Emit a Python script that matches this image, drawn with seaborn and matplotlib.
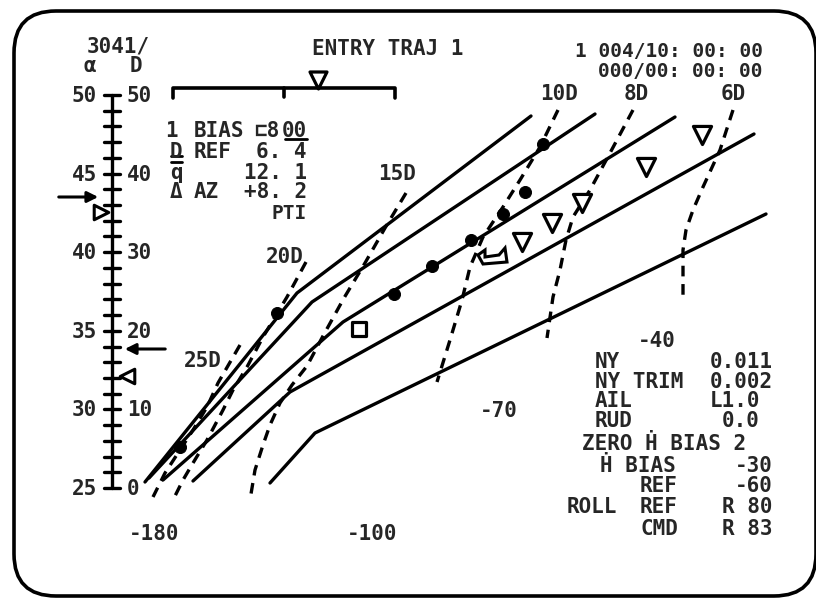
import numpy as np
import pandas as pd
import matplotlib
matplotlib.use("Agg")
import matplotlib.pyplot as plt
import seaborn as sns
from matplotlib.patches import FancyBboxPatch

# ------------------------------------------------------------
# ENTRY TRAJ 1 display, redrawn in screen units (px, y down)
# ------------------------------------------------------------

sns.set_theme(style="white")
plt.rcParams["font.family"] = ["DejaVu Sans Mono", "DejaVu Sans"]
plt.rcParams["font.weight"] = "bold"

# -- drag profile lines (solid) --
prof1_x = [145, 297, 531]
prof1_y = [482, 293, 116]
prof2_x = [149, 312, 595]
prof2_y = [478, 302, 114]
prof3_x = [163, 343, 675]
prof3_y = [480, 322, 117]
prof4_x = [193, 290, 754]
prof4_y = [481, 392, 134]
prof5_x = [270, 315, 766]
prof5_y = [483, 433, 214]

# -- constant drag lines (dashed) --
d25_x = [240, 218, 207, 193, 180, 165, 153]
d25_y = [345, 383, 407, 430, 450, 473, 497]
d20_x = [306, 287, 263, 247, 233, 223, 207, 193, 183, 173]
d20_y = [262, 297, 337, 367, 390, 410, 440, 463, 480, 500]
d15_x = [406, 385, 365, 344, 323, 307, 292, 280, 270, 263, 255, 250]
d15_y = [193, 228, 263, 298, 336, 366, 385, 403, 425, 445, 470, 500]
d10_x = [558, 540, 520, 503, 483, 470, 462, 450, 437]
d10_y = [110, 147, 180, 207, 237, 267, 300, 340, 382]
d8_x = [633, 610, 590, 573, 566, 560, 553, 547]
d8_y = [110, 153, 190, 217, 240, 270, 297, 338]
d6_x = [733, 720, 703, 693, 686, 683, 683]
d6_y = [110, 150, 187, 210, 230, 250, 297]

# -- history dots, predictor triangles, guidance box --
dot_x = [180, 277, 394, 432, 471, 503, 525, 543]
dot_y = [447, 313, 294, 266, 240, 214, 192, 144]
tri_x = [522, 552, 582, 646, 702]
tri_y = [242, 223, 203, 167, 135]
box_x = [359]
box_y = [329]
bug_x = [478, 485, 485, 499, 505, 507, 483, 478]
bug_y = [255, 250, 257, 255, 248, 262, 264, 255]

# -- alpha / D scale --
alpha_left = ["50", "45", "40", "35", "30", "25"]
drag_right = ["50", "40", "30", "20", "10", "0"]
alpha_major = [50, 45, 40, 35, 30, 25]

# -- text blocks --
info_labels = ["BIAS", "REF", "", "AZ"]
info_values = ["00", "6. 4", "12. 1", "+8. 2", "PTI"]
right_labels = ["NY", "NY TRIM", "AIL", "RUD"]
right_values = ["0.011", "0.002", "L1.0", "0.0"]
bottom_vals = ["-30", "-60", "R 80", "R 83"]


def to_frame(pairs):
    return pd.concat(
        [pd.DataFrame({"x": x, "y": y, "id": i}) for i, (x, y) in enumerate(pairs)],
        ignore_index=True,
    )


fig = plt.figure(figsize=(8.16, 5.99), dpi=100)
ax = fig.add_axes([0, 0, 1, 1])
ax.set_xlim(0, 816)
ax.set_ylim(599, 0)
ax.axis("off")

# screen border
ax.add_patch(FancyBboxPatch((14, 11), 802, 585,
                            boxstyle="round,pad=0,rounding_size=42",
                            fc="none", ec="black", lw=2.6, zorder=1))

solid = to_frame([(prof1_x, prof1_y), (prof2_x, prof2_y), (prof3_x, prof3_y),
                  (prof4_x, prof4_y), (prof5_x, prof5_y)])
sns.lineplot(data=solid, x="x", y="y", units="id", estimator=None, sort=False,
             color="black", lw=2.4, ax=ax)

dashed = to_frame([(d25_x, d25_y), (d20_x, d20_y), (d15_x, d15_y),
                   (d10_x, d10_y), (d8_x, d8_y), (d6_x, d6_y)])
sns.lineplot(data=dashed, x="x", y="y", units="id", estimator=None, sort=False,
             color="black", lw=2.4, linestyle=(0, (3.2, 2.3)), ax=ax)

sns.scatterplot(x=dot_x, y=dot_y, s=75, color="black", edgecolor="black",
                ax=ax, zorder=5)
sns.scatterplot(x=tri_x, y=tri_y, marker="v", s=170, facecolor="white",
                edgecolor="black", linewidth=2.3, ax=ax, zorder=6)
sns.scatterplot(x=box_x, y=box_y, marker="s", s=110, facecolor="white",
                edgecolor="black", linewidth=2.3, ax=ax, zorder=6)
ax.fill(bug_x, bug_y, fc="white", ec="black", lw=2.2, zorder=6)

# alpha / D scale
def alpha_to_y(a):
    return 95 + (50 - a) * 15.72

ax.plot([112, 112], [alpha_to_y(50), alpha_to_y(25)], color="black", lw=2.4)
for a in np.arange(25, 51):
    ax.plot([104, 120], [alpha_to_y(a)] * 2, color="black", lw=2.4)
fs = 15
for a, l, r in zip(alpha_major, alpha_left, drag_right):
    y = alpha_to_y(a) + 7
    ax.text(97, y, l, ha="right", va="baseline", fontsize=fs)
    ax.text(127, y, r, ha="left", va="baseline", fontsize=fs)
ax.text(90, 72, "\u03b1", ha="center", va="baseline", fontsize=fs)
ax.text(136, 72, "D", ha="center", va="baseline", fontsize=fs)
ax.text(87, 53, "3041/", ha="left", va="baseline", fontsize=fs)

# scale pointers
sns.scatterplot(x=[101], y=[212], marker=">", s=110, facecolor="white",
                edgecolor="black", linewidth=2.2, ax=ax, zorder=6)
sns.scatterplot(x=[127], y=[376], marker="<", s=110, facecolor="white",
                edgecolor="black", linewidth=2.2, ax=ax, zorder=6)
ax.annotate("", xy=(101, 197), xytext=(56, 197),
            arrowprops=dict(arrowstyle="-|>", lw=2.2, color="black", mutation_scale=16))
ax.annotate("", xy=(122, 349), xytext=(168, 349),
            arrowprops=dict(arrowstyle="-|>", lw=2.2, color="black", mutation_scale=16))

# top bracket scale
ax.plot([173, 173, 395, 395], [98, 88, 88, 98], color="black", lw=2.6)
ax.plot([284, 284], [88, 97], color="black", lw=2.6)
sns.scatterplot(x=[318], y=[80], marker="v", s=150, facecolor="white",
                edgecolor="black", linewidth=2.3, ax=ax, zorder=6)

# header
ax.text(388, 55, "ENTRY TRAJ 1", ha="center", va="baseline", fontsize=fs)
ax.text(763, 57, "1 004/10: 00: 00", ha="right", va="baseline", fontsize=14)
ax.text(763, 77, "000/00: 00: 00", ha="right", va="baseline", fontsize=14)
ax.text(559, 100, "10D", ha="center", va="baseline", fontsize=fs)
ax.text(636, 100, "8D", ha="center", va="baseline", fontsize=fs)
ax.text(733, 100, "6D", ha="center", va="baseline", fontsize=fs)
ax.text(397, 180, "15D", ha="center", va="baseline", fontsize=fs)
ax.text(285, 263, "20D", ha="center", va="baseline", fontsize=fs)
ax.text(203, 367, "25D", ha="center", va="baseline", fontsize=fs)

# left info block
rows_y = [137, 158, 179, 198, 219]
ax.text(171, rows_y[0], "1", ha="center", va="baseline", fontsize=fs)
ax.text(176, rows_y[1], "D", ha="center", va="baseline", fontsize=fs)
ax.text(176, rows_y[2], "q", ha="center", va="baseline", fontsize=fs)
ax.text(176, rows_y[3], "\u0394", ha="center", va="baseline", fontsize=fs)
ax.plot([171, 182], [156, 156], color="black", lw=2)
ax.plot([171, 182], [162, 162], color="black", lw=2)
for lab, yy in zip(info_labels, rows_y):
    if lab:
        ax.text(194, yy, lab, ha="left", va="baseline", fontsize=fs)
ax.text(254, rows_y[0], "\u228f8", ha="left", va="baseline", fontsize=fs)
for val, yy in zip(info_values, rows_y):
    ax.text(307, yy, val, ha="right", va="baseline", fontsize=fs - 1 if val == "PTI" else fs)
ax.plot([285, 307], [139, 139], color="black", lw=2)

# right block
ax.text(657, 347, "-40", ha="center", va="baseline", fontsize=fs)
ax.text(499, 417, "-70", ha="center", va="baseline", fontsize=fs)
ax.text(154, 540, "-180", ha="center", va="baseline", fontsize=fs)
ax.text(372, 540, "-100", ha="center", va="baseline", fontsize=fs)
for lab, val, yy, xr in zip(right_labels, right_values, [368, 388, 407, 427],
                            [773, 773, 760, 760]):
    ax.text(595, yy, lab, ha="left", va="baseline", fontsize=fs)
    ax.text(xr, yy, val, ha="right", va="baseline", fontsize=fs)
ax.text(582, 450, "ZERO \u1e22 BIAS 2", ha="left", va="baseline", fontsize=fs)
ax.text(600, 472, "\u1e22 BIAS", ha="left", va="baseline", fontsize=fs)
ax.text(640, 492, "REF", ha="left", va="baseline", fontsize=fs)
ax.text(567, 513, "ROLL", ha="left", va="baseline", fontsize=fs)
ax.text(640, 513, "REF", ha="left", va="baseline", fontsize=fs)
ax.text(640, 535, "CMD", ha="left", va="baseline", fontsize=fs)
for val, yy in zip(bottom_vals, [472, 492, 513, 535]):
    ax.text(773, yy, val, ha="right", va="baseline", fontsize=fs)

fig.savefig("out.png", dpi=100)
